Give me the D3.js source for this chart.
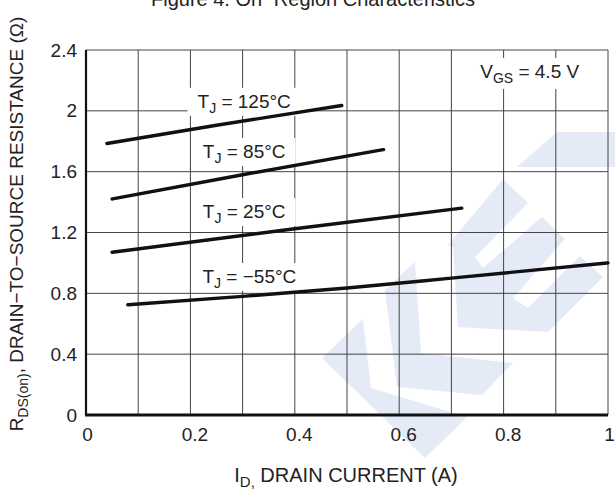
<!DOCTYPE html>
<html>
<head>
<meta charset="utf-8">
<script src="https://d3js.org/d3.v7.min.js"></script>
<style>
  body { margin: 0; background: #fff; }
  text { font-family: Arial, "Liberation Sans", Helvetica, sans-serif; fill: #222; }
</style>
</head>
<body>
<div id="chart"></div>
<script>
// drain current (A) and on-resistance (ohm)
var curve125 = [[0.04, 1.785], [0.25, 1.905], [0.49, 2.035]];
var curve85 = [[0.05, 1.42], [0.3, 1.58], [0.57, 1.745]];
var curve25 = [[0.05, 1.07], [0.4, 1.225], [0.72, 1.36]];
var curveM55 = [[0.08, 0.725], [0.3, 0.78], [0.5, 0.835], [0.7, 0.9], [1.0, 1.0]];

var xTicks = [0, 0.2, 0.4, 0.6, 0.8, 1];
var yTicks = [0, 0.4, 0.8, 1.2, 1.6, 2, 2.4];
var xGrid = d3.range(0, 11).map(function(i) { return i / 10; });

// curve labels: [main, subscript, rest, x, y]
var labels = [
  ["T", "J", " = 125°C", 0.303, 2.02],
  ["T", "J", " = 85°C", 0.303, 1.69],
  ["T", "J", " = 25°C", 0.303, 1.295],
  ["T", "J", " = \u221255°C", 0.313, 0.868]
];

var width = 615, height = 490;
var margin = {top: 50, right: 7, bottom: 75, left: 86};

var x = d3.scaleLinear().domain([0, 1]).range([margin.left, width - margin.right]);
var y = d3.scaleLinear().domain([0, 2.4]).range([height - margin.bottom, margin.top]);

var svg = d3.select("#chart").append("svg")
    .attr("width", width)
    .attr("height", height);

// faint logo watermark behind the grid
var wm = svg.append("g").attr("fill", "#e4eaf6");
[
  [[517,167],[557,132],[615,132],[615,167]],
  [[448,245],[503,179],[528,203],[475,257],[483,268],[542,217],[565,239],[513,298],[528,308],[580,256],[603,277],[548,332],[458,327],[453,247]],
  [[385,290],[415,262],[421,353],[513,363],[482,395],[397,387]],
  [[322,358],[363,319],[371,388],[467,417],[425,458]]
].forEach(function(p) {
  wm.append("polygon").attr("points", p.join(" "));
});

// grid
svg.append("g").selectAll("line.v")
  .data(xGrid)
  .enter().append("line")
    .attr("x1", function(d) { return x(d); })
    .attr("x2", function(d) { return x(d); })
    .attr("y1", y(0))
    .attr("y2", y(2.4))
    .style("stroke", "#444")
    .style("stroke-width", 1);

svg.append("g").selectAll("line.h")
  .data(yTicks)
  .enter().append("line")
    .attr("x1", x(0))
    .attr("x2", x(1))
    .attr("y1", function(d) { return y(d); })
    .attr("y2", function(d) { return y(d); })
    .style("stroke", "#444")
    .style("stroke-width", 1);

// heavy left and bottom axes
svg.append("line")
  .attr("x1", x(0)).attr("x2", x(0)).attr("y1", y(0)).attr("y2", y(2.4))
  .style("stroke", "#111").style("stroke-width", 2.2);
svg.append("line")
  .attr("x1", x(0) - 1).attr("x2", x(1)).attr("y1", y(0)).attr("y2", y(0))
  .style("stroke", "#111").style("stroke-width", 2.8);

// tick labels
var xAxis = d3.axisBottom(x).tickValues(xTicks).tickSize(0).tickPadding(13)
  .tickFormat(function(d) { return d === 0 || d === 1 ? d : d3.format(".1f")(d); });
var gx = svg.append("g").attr("transform", "translate(0," + y(0) + ")").call(xAxis);
gx.select(".domain").remove();
gx.selectAll("text")
  .attr("dx", function(d) { return d === 0 || d === 1 ? 1 : 4; })
  .style("font-size", "19px").style("font-family", "Arial, 'Liberation Sans', sans-serif").attr("fill", "#222");

var yAxis = d3.axisLeft(y).tickValues(yTicks).tickSize(0).tickPadding(9)
  .tickFormat(function(d) { return d === 0 || d === 2 ? d : d3.format(".1f")(d); });
var gy = svg.append("g").attr("transform", "translate(" + x(0) + ",0)").call(yAxis);
gy.select(".domain").remove();
gy.selectAll("text").style("font-size", "19px").style("font-family", "Arial, 'Liberation Sans', sans-serif").attr("fill", "#222");

// label boxes knock out the grid
var lbl = svg.append("g");
labels.forEach(function(l) {
  var t = lbl.append("text")
    .attr("x", x(l[3]))
    .attr("y", y(l[4]))
    .attr("text-anchor", "middle")
    .style("font-size", "19px");
  t.append("tspan").text(l[0]);
  t.append("tspan").attr("dy", 5).style("font-size", "14px").text(l[1]);
  t.append("tspan").attr("dy", -5).text(l[2]);
  var b = t.node().getBBox();
  lbl.insert("rect", function() { return t.node(); })
    .attr("x", b.x - 10).attr("y", b.y - 3)
    .attr("width", b.width + 20).attr("height", b.height + 3)
    .attr("fill", "#fff");
});

var vgs = lbl.append("text")
  .attr("x", x(0.85))
  .attr("y", y(2.216))
  .attr("text-anchor", "middle")
  .style("font-size", "19px");
vgs.append("tspan").text("V");
vgs.append("tspan").attr("dy", 5).style("font-size", "14px").text("GS");
vgs.append("tspan").attr("dy", -5).text(" = 4.5 V");
var vb = vgs.node().getBBox();
lbl.insert("rect", function() { return vgs.node(); })
  .attr("x", vb.x - 8).attr("y", vb.y - 3)
  .attr("width", vb.width + 16).attr("height", vb.height + 6)
  .attr("fill", "#fff");

// curves
var line = d3.line()
  .x(function(d) { return x(d[0]); })
  .y(function(d) { return y(d[1]); })
  .curve(d3.curveMonotoneX);

[curve125, curve85, curve25, curveM55].forEach(function(c) {
  svg.append("path")
    .datum(c)
    .attr("d", line)
    .attr("fill", "none")
    .style("stroke", "#111")
    .style("stroke-width", 3.4)
    .style("stroke-linecap", "round");
});

// titles
svg.append("text")
  .attr("x", 313).attr("y", 6)
  .attr("text-anchor", "middle")
  .style("font-size", "20px")
  .text("Figure 4. On\u2212Region Characteristics");

var xt = svg.append("text")
  .attr("x", 346).attr("y", 482)
  .attr("text-anchor", "middle")
  .style("font-size", "20px");
xt.append("tspan").text("I");
xt.append("tspan").attr("dy", 5).style("font-size", "15px").text("D,");
xt.append("tspan").attr("dy", -5).text(" DRAIN CURRENT (A)");

var yt = svg.append("text")
  .attr("transform", "translate(23," + 224 + ") rotate(-90)")
  .attr("text-anchor", "middle")
  .style("font-size", "19px");
yt.append("tspan").text("R");
yt.append("tspan").attr("dy", 5).style("font-size", "14px").text("DS(on)");
yt.append("tspan").attr("dy", -5).text(", DRAIN\u2212TO\u2212SOURCE RESISTANCE (\u03a9)");
</script>
</body>
</html>
